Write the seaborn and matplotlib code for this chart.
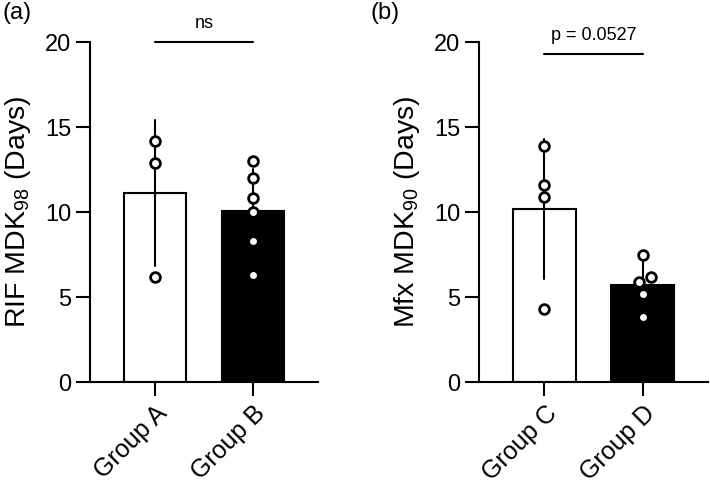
import numpy as np
import pandas as pd
import matplotlib
matplotlib.use("Agg")
import matplotlib.pyplot as plt
import seaborn as sns

# Data
groups_a = ["Group A", "Group B"]
rif_group_a = [14.2, 12.9, 6.2]
rif_group_b = [13.0, 12.0, 10.8, 10.0, 8.3, 6.3]

groups_b = ["Group C", "Group D"]
mfx_group_c = [13.9, 11.6, 10.9, 4.3]
mfx_group_d = [7.5, 6.2, 5.9, 5.2, 3.8]

yticks = [0, 5, 10, 15, 20]
sig_labels = ["ns", "p = 0.0527"]
sig_heights = [20.0, 19.3]
swarm_groups = ["Group D"]  # groups whose overlapping points are spread sideways

sns.set_theme(style="ticks")
plt.rcParams["font.family"] = ["Liberation Sans", "DejaVu Sans"]
plt.rcParams["mathtext.fontset"] = "custom"
plt.rcParams["mathtext.rm"] = "Liberation Sans"
plt.rcParams["mathtext.it"] = "Liberation Sans"
plt.rcParams["text.color"] = "black"
plt.rcParams["axes.labelcolor"] = "black"
plt.rcParams["xtick.color"] = "black"
plt.rcParams["ytick.color"] = "black"

df_a = pd.DataFrame({"group": [groups_a[0]] * len(rif_group_a) + [groups_a[1]] * len(rif_group_b),
                     "value": rif_group_a + rif_group_b})
df_b = pd.DataFrame({"group": [groups_b[0]] * len(mfx_group_c) + [groups_b[1]] * len(mfx_group_d),
                     "value": mfx_group_c + mfx_group_d})

fig = plt.figure(figsize=(7.1, 4.87), dpi=100)
ax1 = fig.add_axes([0.1268, 0.2156, 0.321, 0.698])
ax2 = fig.add_axes([0.675, 0.2156, 0.322, 0.698])

lw = 1.5
pt_kws = dict(color="white", edgecolor="black", linewidth=2.0, size=7.0, zorder=5)
panels = [(ax1, df_a, groups_a, r"RIF MDK$_{98}$ (Days)", "(a)", 0.003),
          (ax2, df_b, groups_b, r"Mfx MDK$_{90}$ (Days)", "(b)", 0.522)]

for i, (ax, df, order, ylab, tag, tx) in enumerate(panels):
    sns.barplot(data=df, x="group", y="value", hue="group", order=order,
                palette=["white", "black"], errorbar="sd", capsize=0,
                width=0.64, edgecolor="black", linewidth=lw,
                err_kws={"color": "black", "linewidth": lw}, legend=False, ax=ax)
    strip_df = df[~df["group"].isin(swarm_groups)]
    swarm_df = df[df["group"].isin(swarm_groups)]
    sns.stripplot(data=strip_df, x="group", y="value", order=order, jitter=False,
                  ax=ax, **pt_kws)
    if len(swarm_df):
        sns.swarmplot(data=swarm_df, x="group", y="value", order=order, ax=ax, **pt_kws)
    ax.set_ylim(0, 20)
    ax.set_xlim(-0.665, 1.665)
    ax.set_yticks(yticks)
    ax.set_xlabel("")
    ax.set_ylabel(ylab, fontsize=20.5, labelpad=9)
    ax.tick_params(axis="y", labelsize=17, length=10, width=lw, color="black")
    ax.tick_params(axis="x", labelsize=18, length=10, width=lw, color="black")
    ax.set_xticks(range(len(order)))
    ax.set_xticklabels(order, rotation=45, ha="right", rotation_mode="anchor")
    for s in ["top", "right"]:
        ax.spines[s].set_visible(False)
    for s in ["left", "bottom"]:
        ax.spines[s].set_linewidth(lw)
        ax.spines[s].set_color("black")
    # significance line
    h = sig_heights[i]
    ax.plot([0, 1], [h, h], color="black", lw=lw, clip_on=False)
    ax.text(0.5, h + 0.6, sig_labels[i], ha="center", va="bottom", fontsize=13)
    fig.text(tx, 0.995, tag, ha="left", va="top", fontsize=17)

fig.savefig("out.png", dpi=100)
